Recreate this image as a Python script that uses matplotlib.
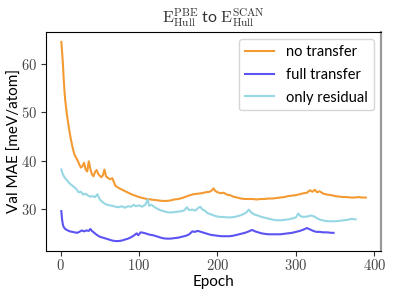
import matplotlib
matplotlib.use("Agg")
import matplotlib.pyplot as plt
from matplotlib.ticker import FuncFormatter

plt.rcParams['mathtext.fontset'] = 'cm'
plt.rcParams['font.family'] = ['Lato', 'DejaVu Sans']

# no transfer
ep_none = [1, 2, 3, 4, 5, 6, 8, 10, 12, 14, 16, 18, 20, 22, 24, 26, 28, 30, 32, 34,
           36, 38, 40, 42, 44, 46, 48, 50, 52, 54, 56, 58, 60, 63, 66, 70, 75, 80, 85, 90,
           95, 100, 105, 110, 115, 120, 125, 130, 135, 140, 145, 150, 155, 160, 165, 170,
           175, 180, 185, 190, 193, 195, 197, 200, 204, 208, 212, 216, 220, 225, 230, 235,
           240, 245, 250, 255, 260, 265, 270, 275, 280, 285, 290, 295, 300, 305, 310, 314,
           318, 321, 324, 327, 330, 335, 340, 345, 350, 355, 360, 365, 370, 375, 380, 385, 389]
mae_none = [64.6, 62.5, 60.2, 57.0, 54.5, 52.5, 49.8, 47.5, 45.5, 43.8, 42.3, 41.2, 40.6,
            40.0, 39.2, 38.6, 38.9, 39.6, 38.2, 37.8, 39.9, 38.3, 37.2, 36.8, 37.7, 38.1,
            37.3, 36.9, 36.6, 37.0, 38.2, 36.8, 36.5, 36.2, 36.4, 34.8, 34.3, 33.9, 33.5,
            33.1, 32.8, 32.5, 32.3, 32.1, 32.0, 31.9, 31.8, 31.7, 31.7, 31.8, 32.0, 32.1,
            32.3, 32.6, 32.9, 33.1, 33.2, 33.3, 33.5, 33.6, 33.9, 34.3, 33.8, 33.5, 33.3,
            33.4, 33.0, 32.9, 32.6, 32.4, 32.2, 32.1, 32.1, 32.1, 32.0, 32.1, 32.1, 32.2,
            32.2, 32.3, 32.4, 32.5, 32.7, 32.8, 32.9, 33.1, 33.3, 33.4, 33.9, 33.6, 34.0,
            33.5, 33.7, 33.2, 33.0, 32.9, 32.7, 32.6, 32.5, 32.5, 32.4, 32.4, 32.5, 32.4, 32.4]

# full transfer
ep_full = [1, 2, 3, 4, 6, 9, 12, 15, 18, 21, 24, 27, 30, 33, 36, 38, 40, 43, 46, 50, 54,
           58, 62, 66, 70, 74, 78, 82, 86, 90, 94, 97, 99, 102, 106, 110, 114, 118, 122,
           126, 130, 135, 140, 145, 150, 155, 160, 164, 168, 171, 175, 179, 183, 187, 191,
           195, 200, 205, 210, 215, 220, 225, 230, 235, 240, 244, 248, 252, 256, 260, 265,
           270, 275, 280, 285, 290, 295, 300, 305, 310, 314, 318, 322, 326, 330, 335, 340,
           345, 348]
mae_full = [29.6, 27.8, 26.8, 26.3, 25.9, 25.6, 25.4, 25.3, 25.2, 25.1, 25.3, 25.6, 25.4,
            25.6, 25.5, 25.9, 25.5, 25.1, 24.7, 24.3, 24.1, 23.9, 23.7, 23.5, 23.4, 23.4,
            23.5, 23.7, 23.9, 24.2, 24.6, 25.0, 24.6, 25.2, 25.1, 24.9, 24.7, 24.6, 24.4,
            24.2, 24.0, 23.9, 23.9, 24.0, 24.1, 24.3, 24.5, 24.8, 25.4, 25.3, 25.5, 25.3,
            25.1, 24.9, 24.7, 24.6, 24.5, 24.4, 24.4, 24.4, 24.5, 24.7, 24.9, 25.1, 25.4,
            25.7, 25.4, 25.2, 25.0, 24.9, 24.8, 24.8, 24.8, 24.8, 24.9, 25.0, 25.1, 25.3,
            25.5, 25.8, 26.1, 25.8, 25.5, 25.3, 25.3, 25.2, 25.2, 25.1, 25.1]

# only residual
ep_res = [1, 3, 5, 8, 11, 14, 17, 20, 23, 26, 29, 32, 35, 38, 41, 44, 47, 50, 54, 58, 62,
          66, 70, 74, 78, 82, 86, 90, 93, 96, 100, 104, 108, 111, 113, 116, 119, 123, 127,
          131, 135, 140, 145, 150, 155, 158, 161, 164, 168, 172, 175, 178, 181, 184, 187,
          192, 197, 202, 207, 212, 217, 222, 227, 232, 236, 240, 243, 247, 251, 256, 261,
          266, 271, 276, 281, 286, 291, 296, 300, 303, 306, 310, 315, 319, 323, 327, 331,
          336, 341, 346, 351, 356, 361, 366, 371, 374, 376]
mae_res = [38.2, 37.2, 36.6, 36.0, 35.4, 35.0, 34.6, 34.2, 33.5, 33.6, 33.0, 33.2, 32.8,
           32.6, 32.7, 32.5, 33.1, 32.0, 31.4, 31.0, 30.8, 30.7, 30.5, 30.4, 30.6, 30.3,
           30.6, 30.5, 30.9, 30.6, 30.8, 30.5, 30.9, 32.0, 30.7, 30.9, 30.5, 30.1, 29.8,
           29.6, 29.4, 29.3, 29.4, 29.5, 29.6, 29.8, 30.4, 29.8, 29.9, 29.7, 30.2, 30.5,
           29.9, 29.7, 29.2, 28.9, 28.6, 28.4, 28.4, 28.3, 28.3, 28.4, 28.6, 28.9, 29.2,
           29.9, 29.3, 28.9, 28.7, 28.4, 28.2, 28.0, 27.8, 27.7, 27.7, 27.8, 27.9, 28.1,
           28.3, 29.1, 28.5, 28.4, 28.5, 28.7, 28.5, 28.1, 27.8, 27.6, 27.5, 27.5, 27.5,
           27.6, 27.7, 27.8, 28.0, 27.9, 27.9]

fig = plt.figure(figsize=(3.94, 2.96), dpi=100)
ax = fig.add_axes([0.117, 0.152, 0.85, 0.74])

ax.plot(ep_none, mae_none, color='#f39a33', lw=1.5, label='no transfer')
ax.plot(ep_full, mae_full, color='#5b53f2', lw=1.5, label='full transfer')
ax.plot(ep_res, mae_res, color='#96d7e3', lw=1.5, label='only residual')

ax.set_xticks([0, 100, 200, 300, 400])
ax.set_yticks([30, 40, 50, 60])
ax.xaxis.set_major_formatter(FuncFormatter(lambda v, p: r'$%d$' % v))
ax.yaxis.set_major_formatter(FuncFormatter(lambda v, p: r'$%d$' % v))
ax.tick_params(labelsize=10.5, colors='#333333', labelcolor='#444444', pad=3)
ax.tick_params(axis='x', pad=1.5)
ax.spines['right'].set_color('#999999')
ax.spines['right'].set_linewidth(1.6)

ax.set_xlabel('Epoch', fontsize=11)
ax.set_ylabel('Val MAE [meV/atom]', fontsize=11)
ax.xaxis.set_label_coords(0.5, -0.108)
ax.yaxis.set_label_coords(-0.072, 0.5)
ax.set_title(r'$\mathrm{E}^{\mathrm{PBE}}_{\mathrm{Hull}}$ to $\mathrm{E}^{\mathrm{SCAN}}_{\mathrm{Hull}}$',
             fontsize=11.5, color='#333333', pad=7)
ax.legend(loc='upper right', fontsize=10.5, borderaxespad=0.5, labelspacing=0.6)

fig.savefig('out.png', dpi=100)
